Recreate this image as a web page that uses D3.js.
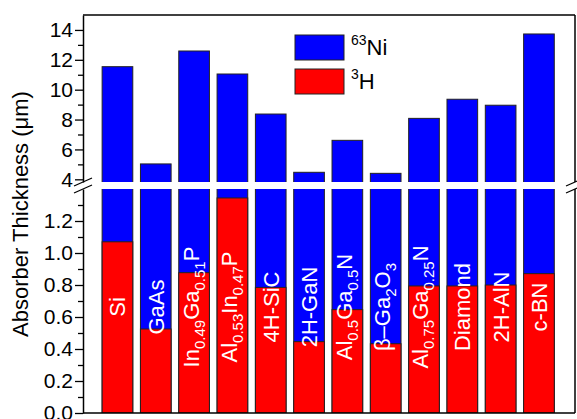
<!DOCTYPE html>
<html>
<head>
<meta charset="utf-8">
<script src="https://cdn.jsdelivr.net/npm/d3@7"></script>
<style>
  body { margin: 0; background: #fff; }
  svg { display: block; font-family: "Liberation Sans", Arial, sans-serif; }
</style>
</head>
<body>
<svg id="chart" width="577" height="419"></svg>
<script>
// Absorber materials (subscripts written as _{...})
const materials = [
  "Si", "GaAs", "In_{0.49}Ga_{0.51}P", "Al_{0.53}In_{0.47}P", "4H-SiC", "2H-GaN",
  "Al_{0.5}Ga_{0.5}N", "β–Ga_{2}O_{3}", "Al_{0.75}Ga_{0.25}N", "Diamond", "2H-AlN", "c-BN"
];
// Absorber thickness (µm) for each source
const ni63 = [11.54, 5.03, 12.59, 11.05, 8.37, 4.47, 6.61, 4.40, 8.08, 9.36, 8.96, 13.73];
const h3   = [1.07, 0.525, 0.877, 1.344, 0.785, 0.446, 0.646, 0.433, 0.794, 0.794, 0.80, 0.871];

// Axis ticks for the two halves of the broken axis
const upperTicks = [4, 6, 8, 10, 12, 14];
const upperMinor = [5, 7, 9, 11, 13];
const lowerTicks = [0.0, 0.2, 0.4, 0.6, 0.8, 1.0, 1.2];
const lowerMinor = [0.1, 0.3, 0.5, 0.7, 0.9, 1.1, 1.3];

const sources = [
  { sup: "63", name: "Ni", color: "#0000ff" },
  { sup: "3",  name: "H",  color: "#ff0000" }
];

const svg = d3.select("#chart");
const L = 83, R = 575, T = 15, B = 413;
const upBottom = 182, loTop = 189;
const ink = "#000";
const barStroke = "#222";
const font = "Liberation Sans, Arial, sans-serif";

const x = d3.scaleBand().domain(materials).range([L, R])
  .paddingInner(0.2).paddingOuter(0.52).align(0.48);
const yUp = d3.scaleLinear().domain([3.82, 15]).range([upBottom, T]);
const yLo = d3.scaleLinear().domain([0, 1.4]).range([B, loTop]);

const defs = svg.append("defs");
defs.append("clipPath").attr("id", "clipUp")
  .append("rect").attr("x", L).attr("y", T).attr("width", R - L).attr("height", upBottom - T);
defs.append("clipPath").attr("id", "clipLo")
  .append("rect").attr("x", L).attr("y", loTop).attr("width", R - L).attr("height", B - loTop);

const rows = materials.map((m, i) => ({ m, ni: ni63[i], h: h3[i] }));

// Upper panel: 63Ni bars
const gUp = svg.append("g").attr("clip-path", "url(#clipUp)");
gUp.selectAll("rect").data(rows).join("rect")
  .attr("x", d => x(d.m))
  .attr("width", x.bandwidth())
  .attr("y", d => yUp(d.ni))
  .attr("height", d => upBottom + 20 - yUp(d.ni))
  .attr("fill", sources[0].color)
  .attr("stroke", barStroke).attr("stroke-width", 1);

// Lower panel: 63Ni bars with 3H bars in front
const gLo = svg.append("g").attr("clip-path", "url(#clipLo)");
gLo.selectAll("rect.ni").data(rows).join("rect").attr("class", "ni")
  .attr("x", d => x(d.m))
  .attr("width", x.bandwidth())
  .attr("y", d => Math.max(yLo(d.ni), loTop - 20))
  .attr("height", d => B - Math.max(yLo(d.ni), loTop - 20))
  .attr("fill", sources[0].color)
  .attr("stroke", barStroke).attr("stroke-width", 1);
gLo.selectAll("rect.h").data(rows).join("rect").attr("class", "h")
  .attr("x", d => x(d.m))
  .attr("width", x.bandwidth())
  .attr("y", d => yLo(d.h))
  .attr("height", d => B - yLo(d.h))
  .attr("fill", sources[1].color)
  .attr("stroke", barStroke).attr("stroke-width", 1);

// Material names, rotated inside the bars
const labelSize = 22, subSize = 15, subShift = 6;
const labelY = 307;
rows.forEach(d => {
  const parts = d.m.split(/(_\{[^}]*\})/).filter(s => s.length);
  const hasSub = parts.some(p => p.startsWith("_{"));
  const cx = x(d.m) + x.bandwidth() / 2 + labelSize * 0.36 + (hasSub ? -3.5 : 0);
  const t = svg.append("text")
    .attr("transform", `translate(${cx},${labelY}) rotate(-90)`)
    .attr("text-anchor", "middle")
    .attr("font-family", font)
    .attr("font-size", labelSize)
    .attr("fill", "#fff");
  let down = false;
  parts.forEach(p => {
    if (p.startsWith("_{")) {
      t.append("tspan").attr("font-size", subSize)
        .attr("dy", down ? 0 : subShift).text(p.slice(2, -1));
      down = true;
    } else {
      t.append("tspan").attr("dy", down ? -subShift : 0).text(p);
      down = false;
    }
  });
});

// Left axis, broken into two pieces
function styleAxis(g) {
  g.selectAll("text").attr("font-size", 21).attr("font-family", font).attr("fill", ink);
  g.selectAll("line").attr("stroke", ink).attr("stroke-width", 1.3);
  g.select(".domain").attr("stroke", ink).attr("stroke-width", 1.5);
}
svg.append("g").attr("transform", `translate(${L},0)`)
  .call(d3.axisLeft(yUp).tickValues(upperTicks).tickSize(8).tickSizeOuter(0)
    .tickPadding(2).tickFormat(d3.format("d")))
  .call(styleAxis);
svg.append("g").attr("transform", `translate(${L},0)`)
  .call(d3.axisLeft(yUp).tickValues(upperMinor).tickSize(5).tickFormat(""))
  .call(g => g.select(".domain").remove())
  .call(styleAxis);
svg.append("g").attr("transform", `translate(${L},0)`)
  .call(d3.axisLeft(yLo).tickValues(lowerTicks).tickSize(8).tickSizeOuter(0)
    .tickPadding(2).tickFormat(d3.format(".1f")))
  .call(styleAxis);
svg.append("g").attr("transform", `translate(${L},0)`)
  .call(d3.axisLeft(yLo).tickValues(lowerMinor).tickSize(5).tickFormat(""))
  .call(g => g.select(".domain").remove())
  .call(styleAxis);

// Frame: top, right (broken) and bottom
const frame = svg.append("g").attr("stroke", ink).attr("stroke-width", 1.5).attr("fill", "none");
frame.append("line").attr("x1", L).attr("x2", R).attr("y1", T).attr("y2", T);
frame.append("line").attr("x1", L).attr("x2", R).attr("y1", B).attr("y2", B);
frame.append("line").attr("x1", R).attr("x2", R).attr("y1", T).attr("y2", upBottom);
frame.append("line").attr("x1", R).attr("x2", R).attr("y1", loTop).attr("y2", B);

// Break marks on both vertical axes
[L, R].forEach(bx => {
  [upBottom, loTop].forEach(by => {
    frame.append("line")
      .attr("x1", bx - 9).attr("y1", by + 4)
      .attr("x2", bx + 9).attr("y2", by - 4)
      .attr("stroke-width", 1.3);
  });
});

// Axis title
svg.append("text")
  .attr("transform", `translate(28,214) rotate(-90)`)
  .attr("text-anchor", "middle")
  .attr("font-family", font)
  .attr("font-size", 22)
  .attr("fill", ink)
  .text("Absorber Thickness (μm)");

// Legend
const legend = svg.append("g");
sources.forEach((s, i) => {
  const ly = 35 + i * 34;
  legend.append("rect")
    .attr("x", 295).attr("y", ly).attr("width", 49).attr("height", 25)
    .attr("fill", s.color).attr("stroke", barStroke).attr("stroke-width", 1);
  const t = legend.append("text")
    .attr("x", 351).attr("y", ly + 20)
    .attr("font-family", font).attr("font-size", 22).attr("fill", ink);
  t.append("tspan").attr("font-size", 14).attr("dy", -10).text(s.sup);
  t.append("tspan").attr("dy", 10).text(s.name);
});
</script>
</body>
</html>
